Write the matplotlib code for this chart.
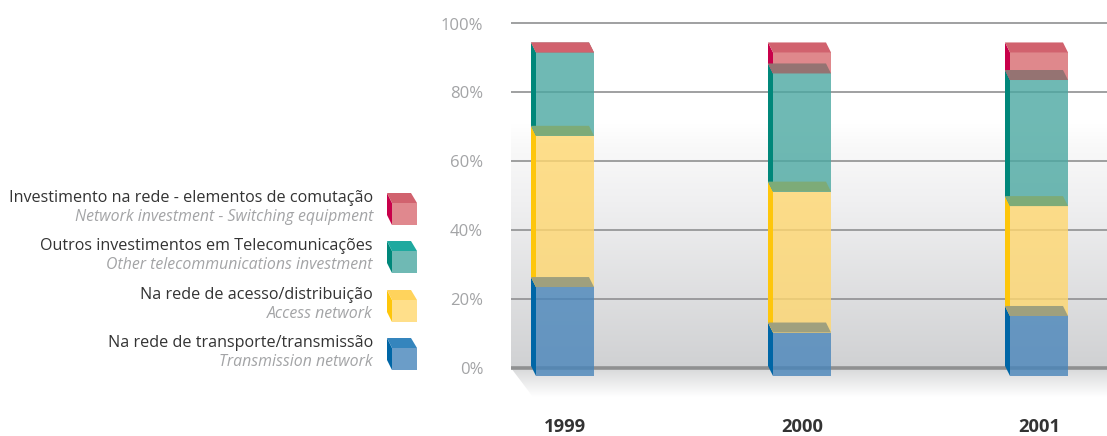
import numpy as np
import matplotlib
matplotlib.use('Agg')
import matplotlib.pyplot as plt
from matplotlib.colors import LinearSegmentedColormap
from matplotlib.patches import Polygon

years = ['1999', '2000', '2001']
blue = [25.8, 12.6, 17.4]
yellow = [43.9, 40.9, 31.9]
teal = [24.2, 34.3, 36.6]
red = [0.0, 6.1, 8.0]
yticks = [0, 20, 40, 60, 80, 100]
ylabels = ['0%', '20%', '40%', '60%', '80%', '100%']

labels_pt = ['Investimento na rede - elementos de comutação',
             'Outros investimentos em Telecomunicações',
             'Na rede de acesso/distribuição',
             'Na rede de transporte/transmissão']
labels_en = ['Network investment - Switching equipment',
             'Other telecommunications investment',
             'Access network',
             'Transmission network']

plt.rcParams['font.family'] = ['Open Sans', 'DejaVu Sans']

W, H = 1107, 436
fig = plt.figure(figsize=(W / 100, H / 100), dpi=100)

# plot area runs from x=511 to the right edge, y=0 to y=400
ax = fig.add_axes([511 / W, 36 / H, 596 / W, 400 / H])
ppu = 3.445
px = 237.0
ax.set_xlim((511 - 565) / px, (1107 - 565) / px)
ax.set_ylim((368 - 400) / ppu, 368 / ppu)
for s in ax.spines.values():
    s.set_visible(False)
ax.patch.set_alpha(0)

xl = ax.get_xlim()
yl = ax.get_ylim()

# wall gradient
wall = LinearSegmentedColormap.from_list('wall', [(0, '#ffffff'), (0.34, '#ffffff'), (0.40, '#f9f9f9'),
                                                  (0.55, '#f0f0f1'), (1, '#d0d1d3')])
ax.imshow(np.linspace(0, 1, 256).reshape(-1, 1), cmap=wall, aspect='auto', zorder=0,
          extent=[xl[0], xl[1], 0, yl[1]], origin='upper')

# floor under the zero line
floor_cm = LinearSegmentedColormap.from_list('floor', ['#d6d7d8', '#ffffff'])
im = ax.imshow(np.linspace(0, 1, 64).reshape(-1, 1), cmap=floor_cm, aspect='auto', zorder=0,
               extent=[xl[0], xl[1], (368 - 397) / ppu, 0], origin='upper')
clip = Polygon([(xl[0], 0), (xl[1], 0), (xl[1], (368 - 397) / ppu),
                (xl[0] + 22 / px, (368 - 397) / ppu)], transform=ax.transData, fc='none', ec='none')
ax.add_patch(clip)
im.set_clip_path(clip)
ax.set_xlim(xl)
ax.set_ylim(yl)

for t in yticks:
    ax.axhline(t, color='#8f9091', lw=2.6 if t == 0 else 1.2, zorder=1)

ax.set_yticks(yticks, ylabels, color='#a3a4a6', fontsize=12)
ax.set_xticks(range(len(years)), years, color='#333333', fontsize=13.2, fontweight='bold')
ax.tick_params(axis='y', length=0, pad=20)
ax.tick_params(axis='x', length=0, pad=13)

series = [blue, yellow, teal, red]
front_col = ['#4985ba', '#ffd76f', '#4ba8a1', '#d86a6f']
side_col = ['#0066a6', '#fec60b', '#00877a', '#c8004a']
top_col = ['#9fa07e', '#7dab78', '#957372', '#d1626e']

half = 29 / px
dx = 5 / px
dy = 10 / ppu
base = 0.6

for i in range(len(years)):
    bottom = base
    for k, vals in enumerate(series):
        v = vals[i]
        top = bottom + v
        c = i - half
        if v > 0:
            ax.bar(i, v, 2 * half, bottom=bottom - dy, color=front_col[k], alpha=0.8, lw=0, zorder=3)
            ax.add_patch(Polygon([(c - dx, top), (c, top - dy), (c, bottom - dy), (c - dx, bottom)],
                                 fc=side_col[k], ec='none', zorder=4))
        ax.add_patch(Polygon([(c, top - dy), (c - dx, top), (c + 2 * half - dx, top), (c + 2 * half, top - dy)],
                             fc=top_col[k], ec='none', zorder=5))
        bottom = top

# legend, in pixel coordinates
lax = fig.add_axes([0, 0, 1, 1])
lax.set_xlim(0, W)
lax.set_ylim(H, 0)
lax.axis('off')

leg_front = ['#e0888e', '#6fb9b4', '#ffdf8a', '#6b9dc8']
leg_side = ['#c8004a', '#00877a', '#fec60b', '#0066a6']
leg_top = ['#d1626e', '#1fa99f', '#ffd35c', '#3585bd']
leg_y = [193, 241, 290, 338]

for k in range(4):
    y = leg_y[k]
    lax.add_patch(Polygon([(392, y + 10), (417, y + 10), (417, y + 32), (392, y + 32)], fc=leg_front[k], ec='none'))
    lax.add_patch(Polygon([(387, y), (392, y + 10), (392, y + 32), (387, y + 22)], fc=leg_side[k], ec='none'))
    lax.add_patch(Polygon([(387, y), (411, y), (417, y + 10), (392, y + 10)], fc=leg_top[k], ec='none'))
    lax.text(373, y + 4.5, labels_pt[k], ha='right', va='center', fontsize=11.62, color='#333333')
    lax.text(373, y + 24, labels_en[k], ha='right', va='center', fontsize=11.4, color='#a3a4a6', style='italic')

fig.savefig('out.png', dpi=100)
